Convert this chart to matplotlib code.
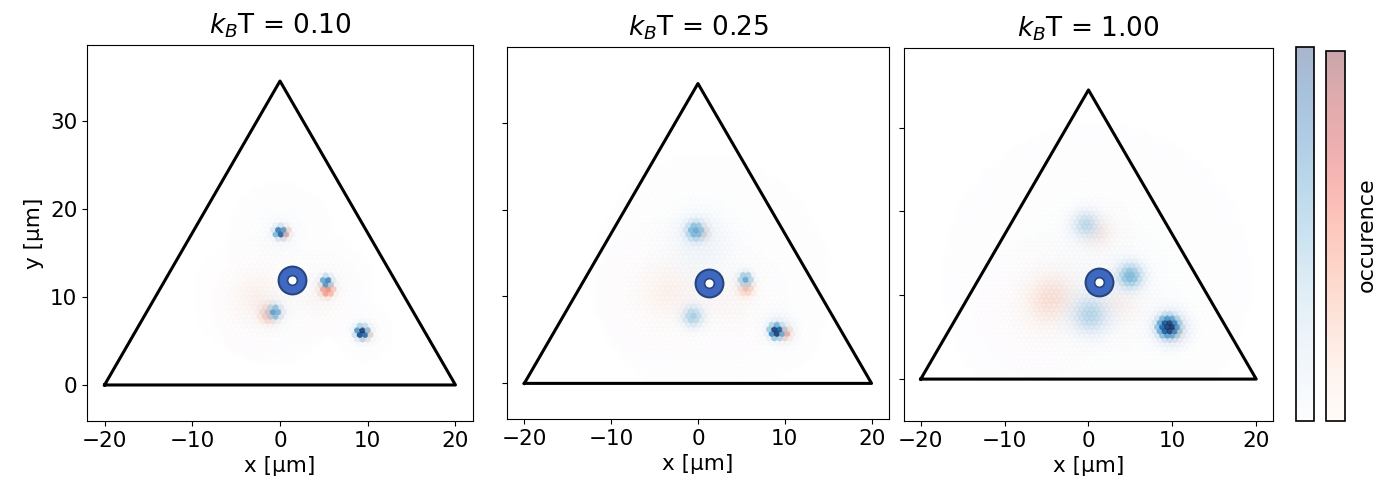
import numpy as np
import matplotlib
matplotlib.use('Agg')
import matplotlib.pyplot as plt
from matplotlib.colors import ListedColormap, Normalize
from matplotlib.cm import ScalarMappable

# panel settings
temps = [0.10, 0.25, 1.00]
tri_top = [34.6, 34.5, 34.5]
tri_base = [0.0, 0.0, 0.0]
ylims = [(-4.1, 38.7), (-4.1, 38.7), (-5.0, 39.5)]
ring_x = [1.37, 1.27, 1.25]
ring_y = [12.0, 11.6, 11.6]

# occupancy blobs: (x, y, width, weight)
blue_blobs = [
    [(0.0, 17.4, 0.45, 0.8), (0.0, 17.2, 2.2, 0.12), (5.3, 11.8, 0.45, 0.7),
     (5.3, 11.5, 2.0, 0.10), (-0.6, 8.3, 0.6, 0.5), (-1.0, 8.8, 2.5, 0.10),
     (9.3, 6.0, 0.45, 1.0), (9.5, 6.0, 1.2, 0.2)],
    [(-0.3, 17.6, 0.8, 0.4), (0.0, 17.0, 3.0, 0.12), (5.5, 12.0, 0.6, 0.5),
     (-0.6, 7.7, 1.0, 0.35), (9.0, 6.0, 0.5, 1.0), (9.5, 6.2, 1.5, 0.2),
     (1.5, 12.0, 5.5, 0.07)],
    [(-0.3, 18.5, 1.3, 0.28), (5.0, 12.3, 1.2, 0.4), (0.2, 7.6, 1.8, 0.28),
     (9.5, 6.3, 0.8, 0.9), (10.0, 6.0, 1.8, 0.25), (1.0, 12.0, 7.0, 0.10)],
]
red_blobs = [
    [(0.5, 17.3, 0.5, 0.6), (5.4, 10.9, 0.6, 0.5), (-2.8, 10.0, 2.5, 0.15),
     (4.6, 10.0, 2.0, 0.10), (9.8, 5.8, 0.5, 0.5), (-1.2, 8.0, 0.8, 0.3)],
    [(0.6, 17.3, 0.7, 0.3), (5.6, 11.0, 0.7, 0.3), (-3.5, 10.5, 3.0, 0.15),
     (3.8, 9.5, 2.5, 0.10), (10.0, 5.8, 0.6, 0.5)],
    [(1.2, 17.5, 1.5, 0.2), (-4.0, 10.0, 2.5, 0.18), (3.5, 9.0, 2.0, 0.15),
     (10.2, 5.8, 0.8, 0.45), (-6.0, 8.0, 3.0, 0.08)],
]

# hex lattice for the occupancy dots
step = 0.6
gx, gy = np.meshgrid(np.arange(-20, 20, step), np.arange(0, 35, step * np.sqrt(3) / 2))
gx = gx + (np.arange(gx.shape[0])[:, None] % 2) * step / 2
gx, gy = gx.ravel(), gy.ravel()


def field(blobs):
    f = np.zeros_like(gx)
    for bx, by, s, a in blobs:
        f += a * np.exp(-((gx - bx) ** 2 + (gy - by) ** 2) / (2 * s ** 2))
    return np.clip(f, 0, 1)


def draw_dots(ax, blobs, cmap):
    v = field(blobs)
    keep = v > 0.003
    col = plt.get_cmap(cmap)(v[keep])
    col[:, 3] = np.clip(2.0 * v[keep], 0, 0.85)
    ax.scatter(gx[keep], gy[keep], c=col, s=20, marker='o', linewidths=0, zorder=1)


fig = plt.figure(figsize=(13.92, 4.95), dpi=100)
positions = [
    [0.0625, 0.1495, 0.2773, 0.7596],
    [0.3642, 0.1535, 0.2744, 0.7515],
    [0.6494, 0.1495, 0.2651, 0.7535],
]

for i in range(3):
    ax = fig.add_axes(positions[i])
    draw_dots(ax, red_blobs[i], 'Reds')
    draw_dots(ax, blue_blobs[i], 'Blues')
    tx = [-20, 20, 0, -20]
    ty = [tri_base[i], tri_base[i], tri_top[i], tri_base[i]]
    ax.plot(tx, ty, color='k', lw=2.2, zorder=3)
    ax.plot(ring_x[i], ring_y[i], 'o', ms=20, mfc='#3f68c0', mec='#27457f', mew=1.5, zorder=5)
    ax.plot(ring_x[i], ring_y[i], 'o', ms=7, mfc='white', mec='#27457f', mew=1.2, zorder=6)
    ax.set_xlim(-22, 22)
    ax.set_ylim(*ylims[i])
    ax.set_xticks([-20, -10, 0, 10, 20])
    ax.set_yticks([0, 10, 20, 30])
    ax.tick_params(labelsize=15.5)
    ax.set_xlabel('x [μm]', fontsize=15.5)
    ax.set_title(f'$k_B$T = {temps[i]:.2f}', fontsize=19, pad=8)
    if i == 0:
        ax.set_ylabel('y [μm]', fontsize=15.5)
    else:
        ax.set_yticklabels([])

# colorbars
for cm_name, pos in [('Blues', [0.9310, 0.1495, 0.0130, 0.7556]),
                     ('Reds', [0.9526, 0.1495, 0.0137, 0.7475])]:
    base = plt.get_cmap(cm_name)(np.linspace(0, 1, 256))
    base[:, 3] = 0.35
    cax = fig.add_axes(pos)
    cb = fig.colorbar(ScalarMappable(norm=Normalize(0, 1), cmap=ListedColormap(base)), cax=cax)
    cb.set_ticks([])
    cb.outline.set_linewidth(1.2)

fig.text(0.982, 0.525, 'occurence', rotation=90, fontsize=16, ha='center', va='center')

plt.savefig('out.png', dpi=100)
